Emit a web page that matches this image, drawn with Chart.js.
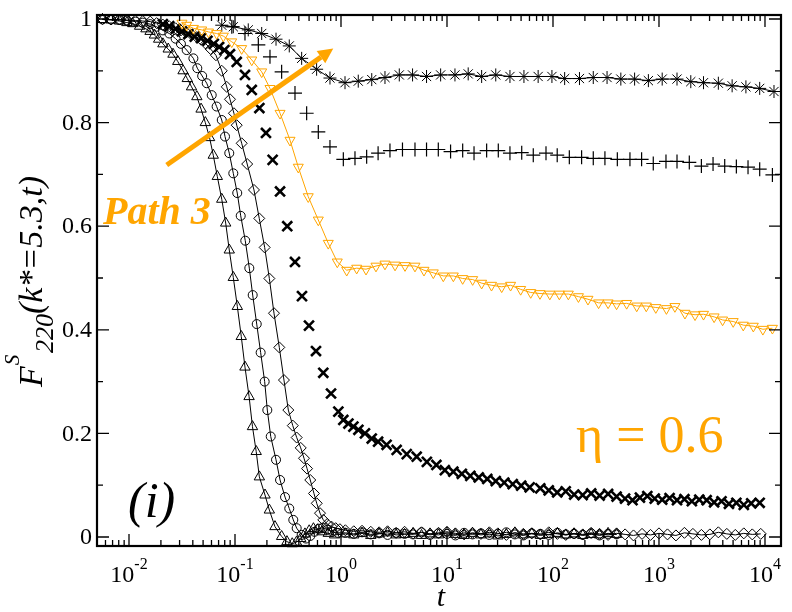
<!DOCTYPE html>
<html>
<head>
<meta charset="utf-8">
<script src="https://cdn.jsdelivr.net/npm/chart.js@4.4.1/dist/chart.umd.min.js"></script>
<style>
html,body{margin:0;padding:0;background:#fff;}
#wrap{width:792px;height:612px;}
</style>
</head>
<body>
<div id="wrap"><canvas id="fsChart" width="792" height="612"></canvas></div>
<script>
// F^S_220 curves, values as [t, F]
let triHead = [[0.00562,0.999],[0.00676,0.998],[0.00813,0.996],[0.00955,0.993],[0.01084,0.991],[0.01259,0.986],[0.01445,0.981],[0.0158,0.976],[0.01738,0.969],[0.01905,0.961],
[0.02089,0.952],[0.02344,0.942],[0.0260,0.932],[0.02884,0.918],[0.03236,0.900],[0.03548,0.885],[0.0389,0.869],[0.04365,0.850],[0.04786,0.826],[0.05248,0.800],
[0.05754,0.771],[0.06237,0.737],[0.0681,0.696],[0.0750,0.652],[0.0817,0.606],[0.0883,0.554],[0.0964,0.501],[0.1052,0.445],[0.1146,0.387],[0.1242,0.328],
[0.1358,0.271],[0.1462,0.213],[0.1585,0.165],[0.1698,0.116],[0.1919,0.081],[0.2109,0.052],[0.2382,0.020],[0.2754,0.001],[0.309,-0.009],[0.3467,-0.013],
[0.3802,-0.010],[0.4169,-0.003],[0.4571,0.006],[0.5012,0.012],[0.5495,0.016],[0.6026,0.014],[0.6607,0.010],[0.7586,0.007],[0.871,0.004]];
let circHead = [[0.00562,0.999],[0.00676,0.999],[0.00813,0.998],[0.00955,0.997],[0.01148,0.995],[0.01349,0.993],[0.01585,0.990],[0.0182,0.985],[0.02089,0.978],[0.02399,0.972],
[0.02754,0.962],[0.0309,0.952],[0.0350,0.940],[0.0405,0.924],[0.0441,0.905],[0.0490,0.890],[0.0541,0.876],[0.0603,0.853],[0.0671,0.831],[0.0750,0.805],
[0.0805,0.773],[0.0883,0.741],[0.0964,0.702],[0.1050,0.664],[0.1132,0.620],[0.1250,0.572],[0.1365,0.519],[0.1469,0.467],[0.1603,0.411],[0.1746,0.356],
[0.1905,0.300],[0.2018,0.245],[0.2173,0.194],[0.2438,0.149],[0.2661,0.110],[0.2965,0.077],[0.3251,0.055],[0.3548,0.033],[0.3819,0.017],[0.4256,0.004],
[0.4677,-0.003],[0.5129,0.002],[0.5623,0.010],[0.6166,0.016],[0.6761,0.018],[0.7413,0.014],[0.8318,0.010],[0.9333,0.008]];
let diaHead = [[0.00562,1.000],[0.00676,0.999],[0.00813,0.999],[0.00955,0.998],[0.01148,0.997],[0.01349,0.996],[0.01585,0.995],[0.0182,0.992],[0.02089,0.989],[0.02399,0.986],
[0.02754,0.982],[0.0309,0.978],[0.0347,0.974],[0.0389,0.970],[0.04365,0.965],[0.04786,0.960],[0.0532,0.952],[0.0589,0.942],[0.0661,0.930],[0.0750,0.900],
[0.0836,0.869],[0.0897,0.845],[0.0977,0.818],[0.1038,0.795],[0.1156,0.760],[0.1303,0.720],[0.1510,0.670],[0.1694,0.615],[0.1905,0.559],[0.2109,0.499],
[0.2333,0.432],[0.2618,0.366],[0.2897,0.303],[0.3184,0.245],[0.3508,0.215],[0.3819,0.192],[0.4169,0.172],[0.4477,0.152],[0.4786,0.132],[0.5129,0.110],
[0.5559,0.084],[0.5902,0.065],[0.6339,0.046],[0.6808,0.033],[0.7413,0.025],[0.8128,0.020],[0.8913,0.017],[0.9772,0.015]];

// long-time plateau near zero
let tTail = [1.10,1.32,1.58,1.91,2.29,2.75,3.31,3.98,4.79,5.75,6.92,8.32,10.0,12.0,14.5,17.4,20.9,25.1,30.2,36.3,43.7,52.5,63.1,75.9,91.2,110,132,158,191,229,275,331,398];
let triTail = [0.006,0.004,0.007,0.003,0.006,0.008,0.004,0.005,0.007,0.003,0.006,0.004,0.008,0.005,0.003,0.007,0.004,0.006,0.002,0.005,0.008,0.004,0.006,0.003,0.005,0.007,0.004,0.006,0.003,0.005,0.004,0.007,0.005];
let circTail = [0.008,0.006,0.009,0.005,0.007,0.004,0.008,0.006,0.005,0.009,0.004,0.007,0.006,0.003,0.008,0.005,0.007,0.004,0.006,0.009,0.005,0.003,0.007,0.006,0.004,0.008,0.005,0.006,0.004,0.007,0.003,0.006,0.005];
let diaTail = [0.013,0.011,0.012,0.010,0.009,0.011,0.008,0.010,0.007,0.009,0.006,0.008,0.010,0.007,0.005,0.008,0.006,0.009,0.007,0.004,0.008,0.006,0.007,0.005,0.009,0.006,0.004,0.007,0.005,0.008,0.006,0.004,0.007];
let tLong = [479,575,692,832,1000,1202,1445,1738,2089,2512,3020,3631,4365,5248,6310,7586,9120];
let diaLong = [0.005,0.003,0.006,0.004,0.007,0.005,0.003,0.008,0.006,0.004,0.005,0.009,0.006,0.004,0.007,0.005,0.006];

let crossData = [[0.02089,0.990],[0.02399,0.986],[0.02754,0.981],[0.0316,0.976],[0.0363,0.971],[0.0417,0.966],[0.04786,0.963],[0.0550,0.958],[0.0631,0.952],[0.0708,0.946],
[0.0794,0.940],[0.0897,0.932],[0.1038,0.917],[0.1242,0.892],[0.1439,0.863],[0.1698,0.828],[0.1959,0.780],[0.2265,0.728],[0.2661,0.667],[0.3112,0.600],
[0.3681,0.531],[0.4285,0.465],[0.4989,0.408],[0.5808,0.359],[0.6808,0.317],[0.8054,0.277],[0.9441,0.242],[1.052,0.226],[1.175,0.219],[1.309,0.213],
[1.459,0.207],[1.683,0.200],[1.950,0.190],[2.239,0.184],[2.692,0.178],[3.350,0.168],[4.169,0.160],[5.176,0.155],[6.457,0.145],[7.943,0.139],
[9.550,0.129],[11.48,0.126],[13.80,0.122],[16.60,0.118],[19.95,0.115],[23.99,0.112],[28.84,0.108],[34.67,0.105],[41.69,0.102],[50.12,0.099],
[60.26,0.096],[75.86,0.094],[91.2,0.090],[109.6,0.086],[131.8,0.088],[158.5,0.082],[190.5,0.081],[229.1,0.084],[275.4,0.080],[331.1,0.083],
[398.1,0.078],[478.6,0.074],[562.3,0.071],[660.7,0.076],[776.2,0.079],[912,0.074],[1072,0.072],[1259,0.075],[1479,0.071],[1738,0.073],
[2042,0.069],[2399,0.072],[2818,0.071],[3311,0.067],[3890,0.069],[4571,0.064],[5370,0.066],[6310,0.062],[7413,0.065],[8913,0.066]];

let orangeData = [[0.0316,0.992],[0.0350,0.988],[0.0405,0.982],[0.0485,0.979],[0.0562,0.975],[0.0671,0.972],[0.0776,0.967],[0.0931,0.956],[0.1156,0.943],[0.1439,0.921],
[0.1786,0.898],[0.2138,0.866],[0.2661,0.818],[0.3304,0.766],[0.3954,0.714],[0.4909,0.657],[0.6109,0.612],[0.7586,0.567],[0.9226,0.531],[1.132,0.515],
[1.406,0.519],[1.722,0.517],[2.138,0.523],[2.600,0.527],[3.236,0.525],[4.018,0.524],[4.989,0.523],[6.067,0.515],[7.430,0.510],[9.226,0.504],
[11.48,0.504],[14.06,0.499],[17.46,0.497],[21.23,0.490],[26.30,0.486],[32.81,0.483],[39.81,0.486],[49.55,0.478],[61.66,0.472],[75.34,0.470],
[93.33,0.469],[114.8,0.469],[139.6,0.469],[173.8,0.464],[213.8,0.459],[269.2,0.452],[331.1,0.452],[398.1,0.450],[495.5,0.451],[616.6,0.446],
[758.6,0.446],[933.3,0.443],[1175,0.441],[1413,0.445],[1758,0.432],[2188,0.429],[2630,0.430],[3311,0.425],[3981,0.419],[5012,0.416],
[6237,0.409],[7762,0.407],[9550,0.401],[11750,0.403]];

let plusData = [[0.0933,0.985],[0.1242,0.972],[0.1660,0.950],[0.2138,0.927],[0.2754,0.898],[0.3681,0.857],[0.4742,0.818],[0.6109,0.782],[0.7870,0.753],[1.052,0.729],
[1.355,0.731],[1.746,0.734],[2.239,0.741],[2.897,0.746],[3.802,0.748],[4.989,0.748],[6.412,0.748],[8.279,0.748],[10.81,0.744],[14.06,0.746],
[17.99,0.741],[23.66,0.746],[30.48,0.746],[39.26,0.741],[50.70,0.742],[65.16,0.737],[85.90,0.741],[109.6,0.737],[142.6,0.733],[186.2,0.733],
[239.9,0.731],[309.0,0.731],[404.6,0.729],[532.1,0.729],[685.5,0.729],[883.1,0.721],[1164,0.725],[1479,0.725],[1932,0.723],[2512,0.716],
[3236,0.720],[4169,0.716],[5370,0.715],[6918,0.714],[8913,0.710],[11750,0.699]];

let starData = [[0.0750,0.988],[0.0964,0.985],[0.1334,0.979],[0.1786,0.972],[0.2438,0.961],[0.3251,0.948],[0.4256,0.924],[0.5888,0.903],[0.7870,0.886],[1.091,0.877],
[1.455,0.880],[1.950,0.883],[2.600,0.887],[3.548,0.892],[4.732,0.892],[6.412,0.889],[8.710,0.892],[11.89,0.892],[15.85,0.894],[21.23,0.889],
[28.84,0.892],[39.26,0.889],[53.21,0.889],[72.44,0.889],[97.72,0.889],[128.8,0.885],[177.8,0.885],[239.9,0.887],[323.6,0.887],[436.5,0.884],
[588.8,0.884],[794.3,0.881],[1072,0.884],[1479,0.884],[1995,0.879],[2630,0.877],[3631,0.876],[4898,0.871],[6607,0.869],[8913,0.866],[12160,0.860]];

// axes
let xMin = 0.00499, xMax = 14160;
let yMin = -0.0174, yMax = 1.0077;
let xTickExps = [-2,-1,0,1,2,3,4];
let yTicks = [0,0.2,0.4,0.6,0.8,1];
let yTickLabels = ["0","0.2","0.4","0.6","0.8","1"];
let yMinorTicks = [0.1,0.3,0.5,0.7,0.9];

const ORANGE = "#FFA500";
const SERIF = '"Liberation Serif", "Times New Roman", serif';

function pts(pairs){
return pairs.map(p => ({x:p[0], y:p[1]}));
}
function withTail(head, times, vals){
let out = pts(head);
times.forEach((t,i) => out.push({x:t, y:vals[i]}));
return out;
}

const framePlugin = {
id: "frame",
afterDraw(chart){
const ctx = chart.ctx;
const a = chart.chartArea;
const xs = chart.scales.x, ys = chart.scales.y;
ctx.save();
ctx.strokeStyle = "#000";
ctx.fillStyle = "#000";
ctx.lineWidth = 1.3;
ctx.beginPath();
xTickExps.concat([-3]).forEach(e => {
for(let m=1;m<10;m++){
let v = m*Math.pow(10,e);
if(v < xMin || v > xMax) continue;
let px = xs.getPixelForValue(v);
let len = m==1 ? 12 : 6;
ctx.moveTo(px, a.bottom); ctx.lineTo(px, a.bottom-len);
ctx.moveTo(px, a.top); ctx.lineTo(px, a.top+len);
}
});
yTicks.forEach(v => {
let py = ys.getPixelForValue(v);
ctx.moveTo(a.left, py); ctx.lineTo(a.left+12, py);
ctx.moveTo(a.right, py); ctx.lineTo(a.right-12, py);
});
yMinorTicks.forEach(v => {
let py = ys.getPixelForValue(v);
ctx.moveTo(a.left, py); ctx.lineTo(a.left+6, py);
ctx.moveTo(a.right, py); ctx.lineTo(a.right-6, py);
});
ctx.stroke();
ctx.lineWidth = 2.2;
ctx.strokeRect(a.left, a.top, a.right-a.left, a.bottom-a.top);

// y tick labels
ctx.font = "24px " + SERIF;
ctx.textAlign = "right";
ctx.textBaseline = "middle";
yTicks.forEach((v,i) => {
ctx.fillText(yTickLabels[i], a.left-5, ys.getPixelForValue(v)+1);
});
// x tick labels 10^e
ctx.textAlign = "left";
ctx.textBaseline = "alphabetic";
xTickExps.forEach(e => {
let px = xs.getPixelForValue(Math.pow(10,e));
ctx.font = "24px " + SERIF;
let w1 = ctx.measureText("10").width;
ctx.font = "16px " + SERIF;
let w2 = ctx.measureText(String(e)).width;
let x0 = px - (w1+w2)/2;
ctx.font = "24px " + SERIF;
ctx.fillText("10", x0, a.bottom+36);
ctx.font = "16px " + SERIF;
ctx.fillText(String(e), x0+w1, a.bottom+23);
});

// axis titles
ctx.font = "italic 30px " + SERIF;
ctx.textAlign = "center";
ctx.fillText("t", 441, 606);
ctx.textAlign = "left";
ctx.save();
ctx.translate(42, 387);
ctx.rotate(-Math.PI/2);
ctx.font = "italic 34px " + SERIF;
ctx.fillText("F", 0, 0);
let wF = ctx.measureText("F").width;
ctx.font = "italic 21px " + SERIF;
ctx.fillText("S", wF+1, -23);
ctx.font = "italic 26px " + SERIF;
ctx.fillText("220", 34, 11);
let w220 = ctx.measureText("220").width;
ctx.font = "italic 34px " + SERIF;
ctx.fillText("(k*=5.3,t)", 34+w220, 0);
ctx.restore();

// annotations
let ax0 = xs.getPixelForValue(0.0227), ay0 = ys.getPixelForValue(0.718);
let ax1 = xs.getPixelForValue(0.845), ay1 = ys.getPixelForValue(0.943);
let ang = Math.atan2(ay1-ay0, ax1-ax0);
let hl = 15, hw = 7.5;
let bx = ax1 - hl*Math.cos(ang), by = ay1 - hl*Math.sin(ang);
ctx.strokeStyle = ORANGE;
ctx.fillStyle = ORANGE;
ctx.lineWidth = 5;
ctx.beginPath();
ctx.moveTo(ax0, ay0);
ctx.lineTo(bx, by);
ctx.stroke();
ctx.beginPath();
ctx.moveTo(ax1, ay1);
ctx.lineTo(bx + hw*Math.sin(ang), by - hw*Math.cos(ang));
ctx.lineTo(bx - hw*Math.sin(ang), by + hw*Math.cos(ang));
ctx.closePath();
ctx.fill();

ctx.font = "italic bold 40px " + SERIF;
ctx.fillText("Path 3", xs.getPixelForValue(0.00569), ys.getPixelForValue(0.604));
ctx.font = "52px " + SERIF;
ctx.fillText("\u03b7 = 0.6", xs.getPixelForValue(165), ys.getPixelForValue(0.164));
ctx.fillStyle = "#000";
ctx.font = "italic 50px " + SERIF;
ctx.fillText("(i)", xs.getPixelForValue(0.0098), ys.getPixelForValue(0.038));
ctx.restore();
}
};

function ds(data, style, color, radius, bw, line, rot){
return {
data: data,
showLine: line,
borderColor: color,
borderWidth: 1,
backgroundColor: "rgba(0,0,0,0)",
pointStyle: style,
pointRadius: radius,
pointBorderColor: color,
pointBackgroundColor: "rgba(0,0,0,0)",
pointBorderWidth: bw,
pointRotation: rot || 0,
tension: 0,
clip: false
};
}

let datasets = [
ds(pts(orangeData), "triangle", ORANGE, 5.8, 1, true, 180),
ds(pts(starData), "star", "#000", 6.5, 1, true),
ds(pts(plusData), "cross", "#000", 7, 1.2, false),
ds(pts(crossData), "crossRot", "#000", 7, 2.6, false),
ds(withTail(diaHead, tTail.concat(tLong), diaTail.concat(diaLong)), "rectRot", "#000", 5.5, 1, true),
ds(withTail(circHead, tTail, circTail), "circle", "#000", 4.5, 1, true),
ds(withTail(triHead, tTail, triTail), "triangle", "#000", 6, 1, true)
];

let chart = new Chart(document.getElementById("fsChart"), {
type: "scatter",
data: {datasets: datasets},
options: {
responsive: false,
animation: false,
devicePixelRatio: 1,
layout: {padding: {left: 97, right: 11, top: 15, bottom: 66}},
plugins: {legend: {display: false}, tooltip: {enabled: false}},
scales: {
x: {type: "logarithmic", min: xMin, max: xMax, display: false},
y: {type: "linear", min: yMin, max: yMax, display: false}
}
},
plugins: [framePlugin]
});
</script>
</body>
</html>
